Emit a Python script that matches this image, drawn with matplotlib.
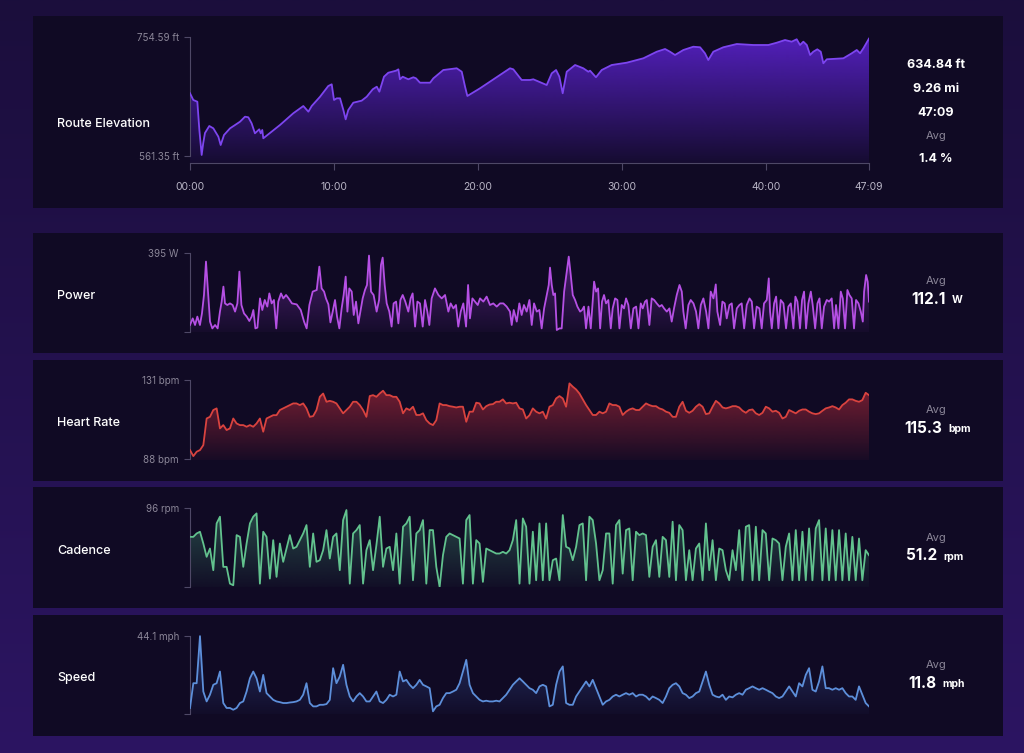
import numpy as np
import matplotlib
matplotlib.use("Agg")
import matplotlib.pyplot as plt
import matplotlib.colors as mcolors
from matplotlib.patches import Polygon, Rectangle

plt.rcParams["font.family"] = ["Inter", "DejaVu Sans"]

W, H = 1024, 753

# ---------------- data ----------------
# route elevation, minutes / feet
el_time = [0.0, 0.23, 0.51, 0.65, 0.81, 0.92, 1.04, 1.34, 1.62, 1.97,
           2.13, 2.36, 2.78, 3.13, 3.47, 3.82, 4.05, 4.28, 4.51, 4.81,
           4.91, 5.02, 5.09, 6.25, 7.17, 7.87, 8.22, 8.45, 9.03, 9.60,
           9.84, 10.0, 10.19, 10.42, 10.65, 10.81, 10.99, 11.34, 11.92, 12.27,
           12.69, 12.97, 13.15, 13.47, 13.77, 14.31, 14.47, 14.58, 14.77, 15.16,
           15.51, 15.69, 15.97, 16.67, 16.90, 17.59, 18.52, 18.87, 19.10, 19.26,
           20.14, 22.22, 22.45, 23.03, 23.61, 23.84, 24.77, 25.12, 25.42, 25.65,
           25.88, 26.16, 26.74, 27.31, 27.66, 27.78, 28.19, 28.59, 29.28, 30.33,
           31.48, 32.41, 32.99, 33.33, 33.68, 34.26, 34.95, 35.42, 35.76, 35.99,
           36.34, 37.03, 37.97, 39.12, 40.16, 40.74, 41.32, 41.78, 42.13, 42.36,
           42.59, 42.83, 43.06, 43.28, 43.56, 43.80, 43.98, 44.22, 45.37, 45.95,
           46.30, 46.53, 46.76, 47.15]
el_ft = [663.2, 652.3, 649.5, 603.6, 563.0, 582.5, 598.7, 610.1, 606.3, 592.7,
         579.2, 595.4, 606.3, 611.7, 617.0, 625.2, 624.2, 614.4, 598.2, 604.7,
         598.2, 603.6, 590.1, 611.7, 630.7, 642.5, 633.3, 642.5, 657.6, 675.0,
         677.8, 652.3, 655.0, 655.0, 636.0, 620.9, 636.0, 647.9, 651.2, 657.6,
         669.7, 673.9, 665.8, 690.1, 696.6, 699.9, 702.1, 685.9, 690.1, 685.9,
         689.2, 687.5, 680.4, 680.4, 687.5, 701.0, 703.8, 698.2, 673.9, 658.8,
         671.3, 703.8, 702.1, 684.8, 684.8, 685.9, 676.6, 695.6, 701.0, 690.1,
         663.2, 698.2, 709.1, 703.8, 698.2, 699.9, 689.2, 701.0, 709.1, 712.9,
         720.0, 730.7, 735.1, 730.7, 725.4, 733.5, 738.8, 737.9, 728.1, 717.2,
         730.7, 737.9, 743.2, 741.6, 741.6, 745.3, 749.7, 747.0, 750.9, 741.6,
         747.0, 741.6, 725.4, 730.7, 734.6, 730.7, 711.9, 718.4, 720.0, 728.1,
         733.5, 728.1, 736.2, 752.0]

# power, minutes / watts
pw_time = [0.0, 0.19, 0.35, 0.51, 0.69, 0.83, 0.97, 1.11, 1.25, 1.39,
           1.55, 1.74, 1.92, 2.08, 2.20, 2.32, 2.43, 2.59, 2.78, 2.96,
           3.13, 3.29, 3.43, 3.57, 3.75, 3.94, 4.12, 4.28, 4.40, 4.54,
           4.68, 4.86, 5.02, 5.19, 5.37, 5.51, 5.67, 5.83, 5.99, 6.13,
           6.32, 6.48, 6.67, 6.85, 7.08, 7.41, 7.69, 7.92, 8.10, 8.29,
           8.52, 8.80, 8.98, 9.14, 9.31, 9.44, 9.61, 9.75, 9.91, 10.07,
           10.21, 10.37, 10.53, 10.67, 10.81, 10.93, 11.06, 11.23, 11.37, 11.53,
           11.69, 11.83, 11.99, 12.15, 12.29, 12.43, 12.57, 12.75, 12.96, 13.13,
           13.26, 13.38, 13.52, 13.66, 13.84, 14.00, 14.14, 14.31, 14.47, 14.61,
           14.77, 14.95, 15.16, 15.32, 15.46, 15.63, 15.79, 15.97, 16.16, 16.32,
           16.48, 16.62, 16.78, 17.01, 17.25, 17.48, 17.71, 17.94, 18.10, 18.29,
           18.47, 18.63, 18.80, 18.98, 19.17, 19.31, 19.44, 19.61, 19.79, 19.98,
           20.14, 20.37, 20.60, 20.83, 21.06, 21.30, 21.53, 21.76, 21.99, 22.22,
           22.34, 22.48, 22.69, 22.87, 23.03, 23.19, 23.38,
           23.57, 23.73, 23.89, 24.08, 24.26, 24.42, 24.59, 24.77, 24.91, 25.00,
           25.12, 25.23, 25.35, 25.47, 25.65, 25.81, 25.98, 26.16, 26.30, 26.44,
           26.58, 26.74, 26.90, 27.09, 27.23, 27.36, 27.50, 27.67, 27.83, 27.97,
           28.06, 28.20, 28.34, 28.48, 28.61, 28.75, 28.89, 29.05, 29.22, 29.35,
           29.52, 29.68, 29.82, 29.98, 30.14, 30.28, 30.44, 30.61, 30.79, 30.98,
           31.14, 31.30, 31.44, 31.60, 31.72, 31.90, 32.06, 32.23, 32.41, 32.60,
           32.76, 32.92, 33.11, 33.29, 33.45, 33.61, 33.80, 33.99, 34.15, 34.26,
           34.42, 34.61, 34.77, 34.96, 35.14, 35.30, 35.47, 35.65, 35.84, 36.00,
           36.16, 36.35, 36.51, 36.62, 36.81, 36.97, 37.13, 37.27, 37.46, 37.62,
           37.78, 37.97, 38.15, 38.31, 38.48, 38.66, 38.85, 39.01, 39.17, 39.35,
           39.54, 39.70, 39.86, 40.05, 40.19, 40.28, 40.40, 40.56, 40.70, 40.86,
           41.02, 41.21, 41.39, 41.55, 41.72, 41.90, 42.04, 42.18, 42.36, 42.50,
           42.64, 42.78, 42.94, 43.11, 43.24, 43.41, 43.57, 43.71, 43.87, 44.03,
           44.22, 44.38, 44.56, 44.73, 44.86, 45.03, 45.19, 45.33, 45.49, 45.65,
           45.79, 45.95, 46.11, 46.25, 46.42, 46.58, 46.72, 46.81, 46.95, 47.06,
           47.15]
pw_watts = [35, 68, 35, 77, 35, 93, 185, 352, 202, 52,
            18, 35, 18, 102, 152, 227, 143, 135, 143, 135,
            102, 143, 302, 135, 93, 77, 55, 77, 110, 18,
            22, 168, 110, 160, 127, 193, 143, 160, 18, 152,
            193, 168, 185, 168, 143, 138, 110, 52, 18, 135,
            202, 210, 327, 218, 202, 168, 138, 48, 102, 160,
            77, 18, 118, 185, 277, 102, 218, 202, 85, 152,
            43, 102, 168, 210, 235, 382, 202, 185, 102, 160,
            335, 372, 235, 143, 102, 27, 143, 152, 43, 160,
            185, 152, 102, 168, 193, 27, 152, 143, 27, 160,
            102, 35, 168, 218, 185, 168, 185, 102, 143, 118,
            135, 27, 102, 143, 27, 235, 68, 168, 152, 135,
            168, 152, 177, 135, 143, 127, 143, 143, 127, 102,
            35, 110, 52, 143, 85, 135, 102,
            160, 35, 143, 102, 110, 18, 118, 185, 235, 322,
            235, 185, 193, 10, 18, 18, 202, 302, 377, 285,
            185, 160, 127, 102, 110, 127, 18, 127, 18, 160,
            252, 202, 218, 18, 152, 185, 143, 160, 18, 118,
            168, 160, 18, 135, 118, 168, 135, 18, 118, 127,
            18, 143, 118, 152, 160, 35, 168, 160, 143, 127,
            135, 118, 102, 118, 52, 118, 185, 235, 202, 102,
            18, 135, 160, 143, 102, 18, 135, 168, 102, 18,
            202, 168, 238, 102, 35, 152, 143, 68, 135, 143,
            18, 118, 135, 143, 18, 135, 168, 152, 18, 127,
            118, 18, 143, 160, 268, 102, 18, 143, 177, 18,
            160, 143, 18, 127, 143, 18, 177, 152, 18, 160,
            202, 18, 143, 202, 135, 18, 143, 168, 18, 127,
            160, 152, 168, 18, 135, 18, 202, 168, 18, 210,
            185, 168, 18, 160, 143, 102, 52, 202, 285, 252,
            152]

# heart rate, bpm, evenly sampled over the ride
hr_bpm = [92.9, 89.6, 92.0, 92.9, 95.6, 110.1, 111.0, 114.7, 115.6, 104.7,
          106.5, 103.8, 104.7, 110.1, 107.4, 106.5, 106.5, 105.6, 106.5, 105.6,
          107.4, 110.1, 102.9, 110.1, 111.0, 111.9, 111.9, 114.7, 115.6, 116.5,
          117.4, 118.3, 118.3, 117.4, 118.3, 115.6, 111.0, 111.4, 114.7, 121.9,
          123.7, 119.2, 119.7, 119.2, 118.3, 115.6, 112.9, 114.7, 116.5, 119.2,
          119.2, 117.4, 114.7, 111.0, 122.3, 122.8, 121.9, 123.7, 125.2, 122.8,
          122.8, 121.9, 121.9, 119.2, 112.9, 115.6, 114.7, 116.5, 112.0, 112.0,
          112.9, 109.2, 107.4, 106.5, 109.2, 118.3, 117.4, 117.4, 116.8, 116.5,
          116.1, 116.5, 116.5, 108.3, 113.8, 113.8, 118.7, 118.3, 115.0, 116.8,
          117.7, 117.9, 119.2, 119.2, 120.5, 118.3, 118.7, 118.3, 118.7, 115.6,
          115.0, 110.1, 111.9,
          115.6, 113.8, 112.9, 113.8, 110.1, 116.5, 117.4, 121.0, 122.3, 121.0,
          116.5, 129.2, 127.4, 125.9, 123.7, 120.5, 117.4, 114.7, 112.0, 112.0,
          113.8, 112.9, 113.8, 118.3, 117.4, 117.4, 116.5, 112.0, 113.8, 115.0,
          115.6, 114.7, 114.7, 116.5, 118.3, 117.4, 116.8, 116.8, 115.6, 115.0,
          113.8, 113.2, 111.0, 111.0, 116.5, 119.2, 114.3, 113.2, 114.3, 116.5,
          117.9, 116.5, 112.5, 112.9, 116.5, 119.7, 118.3, 116.1, 115.6, 116.1,
          116.8, 116.8, 116.1, 114.3, 113.2, 114.7, 115.0, 112.9, 112.0, 113.2,
          116.5, 115.6, 113.8, 114.3, 113.2, 110.1, 111.0, 114.7, 113.8, 112.9,
          114.3, 115.0, 115.0, 113.8, 112.9, 112.5, 112.9, 114.3, 115.6, 116.1,
          116.8, 116.1, 115.0, 117.4, 118.7, 120.5, 120.5, 119.7, 119.2, 120.1,
          124.1, 122.8]

# cadence, rpm, evenly sampled
cad_rpm = [61.0, 61.0, 65.1, 67.2, 52.9, 36.7, 46.8, 20.4, 77.3, 85.5,
           24.5, 24.5, 4.1, 2.1, 63.1, 61.0, 24.5, 52.9, 77.3, 85.5,
           89.5, 4.1, 67.2, 61.0, 10.2, 57.0, 12.3, 52.9, 30.6, 46.8,
           63.1, 46.8, 48.9, 57.0, 65.1, 75.3, 24.5, 65.1, 30.6, 32.6,
           44.8, 69.2, 34.6, 61.0, 65.1, 20.4, 81.4, 93.6, 4.1, 65.1,
           69.2, 75.3, 4.1, 44.8, 57.0, 20.4, 50.9, 85.5, 24.5, 46.8,
           48.9, 20.4, 65.1, 4.1, 73.3, 77.3, 85.5, 8.2, 65.1, 69.2,
           81.4, 4.1, 69.2, 69.2, 24.5, 0.0, 38.7, 61.0, 65.1, 63.1,
           61.0, 59.0, 4.1, 81.4, 87.5, 4.1, 57.0, 52.9, 6.2, 46.8,
           44.8, 42.8, 40.7, 40.7, 42.8, 40.7, 44.8, 57.0, 81.4, 4.1,
           83.4, 73.3, 4.1,
           67.2, 8.2, 77.3, 8.2, 77.3, 8.2, 32.6, 34.6, 8.2, 87.5,
           48.9, 46.8, 32.6, 48.9, 75.3, 77.3, 8.2, 85.5, 81.4, 52.9,
           8.2, 20.4, 65.1, 65.1, 4.1, 75.3, 81.4, 16.3, 69.2, 71.2,
           8.2, 67.2, 63.1, 65.1, 63.1, 12.3, 48.9, 57.0, 12.3, 61.0,
           57.0, 12.3, 79.4, 8.2, 75.3, 69.2, 8.2, 44.8, 8.2, 46.8,
           52.9, 8.2, 77.3, 20.4, 57.0, 8.2, 46.8, 44.8, 20.4, 8.2,
           44.8, 20.4, 69.2, 8.2, 73.3, 75.3, 8.2, 73.3, 8.2, 69.2,
           65.1, 8.2, 59.0, 57.0, 52.9, 8.2, 48.9, 65.1, 8.2, 69.2,
           8.2, 67.2, 8.2, 71.2, 8.2, 71.2, 81.4, 8.2, 71.2, 8.2,
           69.2, 8.2, 69.2, 8.2, 65.1, 8.2, 61.0, 8.2, 59.0, 8.2,
           44.8, 38.7]

# speed, mph, evenly sampled
spd_mph = [3.4, 17.4, 17.4, 44.0, 12.7, 7.1, 10.9, 16.5, 17.4, 24.0,
           6.2, 3.4, 3.4, 2.4, 3.4, 6.2, 7.1, 12.7, 20.2, 24.0,
           20.2, 12.7, 22.1, 11.8, 9.9, 8.0, 7.1, 6.7, 6.2, 6.2,
           6.5, 6.7, 7.1, 8.0, 10.9, 17.4, 6.2, 4.3, 4.3, 5.2,
           5.2, 5.6, 8.0, 25.9, 17.4, 21.2, 27.8, 16.5, 9.9, 7.1,
           9.9, 11.8, 9.9, 7.1, 7.1, 9.9, 12.7, 7.1, 6.2, 8.0,
           10.9, 9.9, 10.9, 24.0, 18.4, 19.3, 16.5, 14.6, 16.5, 19.3,
           16.5, 15.6, 14.6, 1.5, 4.3, 5.2, 9.0, 11.8, 11.8, 12.7,
           13.7, 17.4, 24.0, 30.6, 16.5, 11.8, 9.9, 8.0, 7.1, 7.5,
           7.1, 7.1, 7.5, 7.1, 9.0, 10.9, 13.7, 16.5, 18.4, 20.2,
           18.4, 16.5, 14.6,
           13.7, 11.8, 15.6, 16.5, 15.6, 4.3, 5.2, 16.5, 24.0, 26.9,
           6.2, 5.2, 5.2, 9.9, 12.7, 15.6, 18.4, 15.6, 19.3, 14.6,
           9.9, 5.2, 7.1, 8.0, 9.9, 10.9, 9.9, 10.9, 11.8, 10.9,
           11.8, 9.9, 10.9, 10.9, 9.9, 8.0, 9.9, 9.0, 8.0, 6.2,
           9.9, 14.6, 16.5, 17.4, 15.6, 11.8, 10.9, 9.0, 9.9, 11.8,
           12.7, 18.4, 24.0, 16.5, 10.9, 9.9, 9.4, 10.9, 8.0, 9.9,
           9.4, 10.9, 11.8, 10.9, 13.7, 14.6, 15.6, 14.6, 13.7, 14.6,
           13.7, 12.7, 11.8, 9.9, 9.0, 9.9, 12.7, 15.6, 12.7, 9.9,
           17.4, 15.6, 22.1, 25.9, 13.7, 12.7, 18.4, 26.9, 14.6, 14.6,
           13.7, 14.6, 13.7, 14.6, 11.8, 9.9, 9.9, 8.0, 15.6, 10.9,
           6.2, 4.3]

ride_minutes = 47.15
time_ticks = [0, 10, 20, 30, 40, 47.15]
time_labels = ["00:00", "10:00", "20:00", "30:00", "40:00", "47:09"]

# ---------------- styling ----------------
PANEL = "#100a24"
TICK_C = "#8b8698"
SPINE_C = "#4e4866"


def px_axes(fig, x0, y0, x1, y1):
    return fig.add_axes([x0 / W, 1 - y1 / H, (x1 - x0) / W, (y1 - y0) / H])


def gradient_area(ax, x, y, line_c, fill_c, a_top, a_bot, ybase, ytop):
    x = np.asarray(x, float)
    y = np.asarray(y, float)
    verts = np.column_stack([np.r_[x[0], x, x[-1]], np.r_[ybase, y, ybase]])
    clip = Polygon(verts, closed=True, facecolor="none", edgecolor="none")
    ax.add_patch(clip)
    grad = np.zeros((256, 1, 4))
    grad[:, :, :3] = mcolors.to_rgb(fill_c)
    grad[:, 0, 3] = np.linspace(a_bot, a_top, 256)
    im = ax.imshow(grad, extent=[x[0], x[-1], ybase, ytop], origin="lower",
                   aspect="auto", zorder=2, interpolation="bilinear")
    im.set_clip_path(clip)
    ax.plot(x, y, color=line_c, lw=1.3, zorder=3, solid_joinstyle="round")


def style_axis(ax, ylo, yhi, ticks, labels):
    ax.set_facecolor("none")
    for s in ["top", "right", "bottom"]:
        ax.spines[s].set_visible(False)
    ax.spines["left"].set_color(SPINE_C)
    ax.spines["left"].set_linewidth(0.8)
    ax.spines["left"].set_bounds(ticks[0], ticks[-1])
    ax.set_yticks(ticks)
    ax.set_yticklabels(labels)
    ax.tick_params(axis="y", colors=SPINE_C, labelcolor=TICK_C, length=4,
                   width=0.8, pad=4, labelsize=7)
    ax.set_xticks([])
    ax.set_xlim(0, ride_minutes)
    ax.set_ylim(ylo, yhi)


fig = plt.figure(figsize=(W / 100, H / 100), dpi=100)

# page background + panels
bg = fig.add_axes([0, 0, 1, 1])
bg.set_xlim(0, W)
bg.set_ylim(H, 0)
bg.axis("off")
page = np.zeros((256, 1, 3))
page[:, 0, :] = np.linspace(np.array(mcolors.to_rgb("#1b0e3c")),
                            np.array(mcolors.to_rgb("#2c1562")), 256)
bg.imshow(page, extent=[0, W, H, 0], aspect="auto", zorder=0)
for (py0, py1) in [(16, 208), (233, 353), (360, 481), (487, 608), (615, 736)]:
    bg.add_patch(Rectangle((33, py0), 970, py1 - py0, facecolor=PANEL,
                           edgecolor="none", zorder=1))

# ---- route elevation ----
ax = px_axes(fig, 190, 30, 869, 163)
gradient_area(ax, el_time, el_ft, "#7d45f0", "#5a22cc", 0.95, 0.08, 549.98, 765.96)
style_axis(ax, 549.98, 765.96, [561.35, 754.59], ["561.35 ft", "754.59 ft"])
ax.spines["bottom"].set_visible(True)
ax.spines["bottom"].set_color(SPINE_C)
ax.spines["bottom"].set_linewidth(0.8)
ax.set_xticks(time_ticks)
ax.set_xticklabels(time_labels)
ax.tick_params(axis="x", colors=SPINE_C, labelcolor="#b9b5c6", length=5,
               width=0.8, pad=9, labelsize=7.5)

# ---- power ----
ax = px_axes(fig, 190, 245, 869, 332)
gradient_area(ax, pw_time, pw_watts, "#b550e4", "#8a35c0", 0.55, 0.05, 0, 435)
style_axis(ax, 0, 435, [0, 395], ["", "395 W"])

# ---- heart rate ----
t_even = np.linspace(0, ride_minutes, len(hr_bpm))
ax = px_axes(fig, 190, 372, 869, 460)
gradient_area(ax, t_even, hr_bpm, "#d9433f", "#b02a3a", 0.75, 0.05, 87.5, 135.4)
style_axis(ax, 87.5, 135.4, [88, 131], ["88 bpm", "131 bpm"])

# ---- cadence ----
t_even = np.linspace(0, ride_minutes, len(cad_rpm))
ax = px_axes(fig, 190, 500, 869, 587)
gradient_area(ax, t_even, cad_rpm, "#62c28e", "#3f8a6c", 0.55, 0.04, 0, 105.8)
style_axis(ax, 0, 105.8, [0, 96], ["", "96 rpm"])

# ---- speed ----
t_even = np.linspace(0, ride_minutes, len(spd_mph))
ax = px_axes(fig, 190, 628, 869, 714)
gradient_area(ax, t_even, spd_mph, "#5d8fda", "#3d5aaa", 0.55, 0.04, 0, 48.6)
style_axis(ax, 0, 48.6, [0, 44.1], ["", "44.1 mph"])

# ---- left titles ----
for label, yy in [("Route Elevation", 124), ("Power", 296), ("Heart Rate", 423),
                  ("Cadence", 551), ("Speed", 678)]:
    bg.text(57, yy, label, color="white", fontsize=9, fontweight="medium",
            ha="left", va="center", zorder=5)

# ---- right summaries ----
for txt, yy in [("634.84 ft", 65), ("9.26 mi", 89), ("47:09", 113), ("1.4 %", 159)]:
    bg.text(936, yy, txt, color="white", fontsize=9, fontweight="bold",
            ha="center", va="center", zorder=5)
bg.text(936, 136, "Avg", color=TICK_C, fontsize=8, ha="center", va="center", zorder=5)

summaries = [("112.1", "W", 281, 946), ("115.3", "bpm", 410, 942),
             ("51.2", "rpm", 538, 937), ("11.8", "mph", 665, 936)]
for val, unit, yy, xe in summaries:
    bg.text(936, yy, "Avg", color=TICK_C, fontsize=8, ha="center", va="center", zorder=5)
    bg.text(xe, yy + 18, val, color="white", fontsize=11, fontweight="bold",
            ha="right", va="center", zorder=5)
    bg.text(xe + 6, yy + 19, unit, color="white", fontsize=7.5, fontweight="bold",
            ha="left", va="center", zorder=5)

fig.savefig("out.png", dpi=100, facecolor="#1b0e3c")
